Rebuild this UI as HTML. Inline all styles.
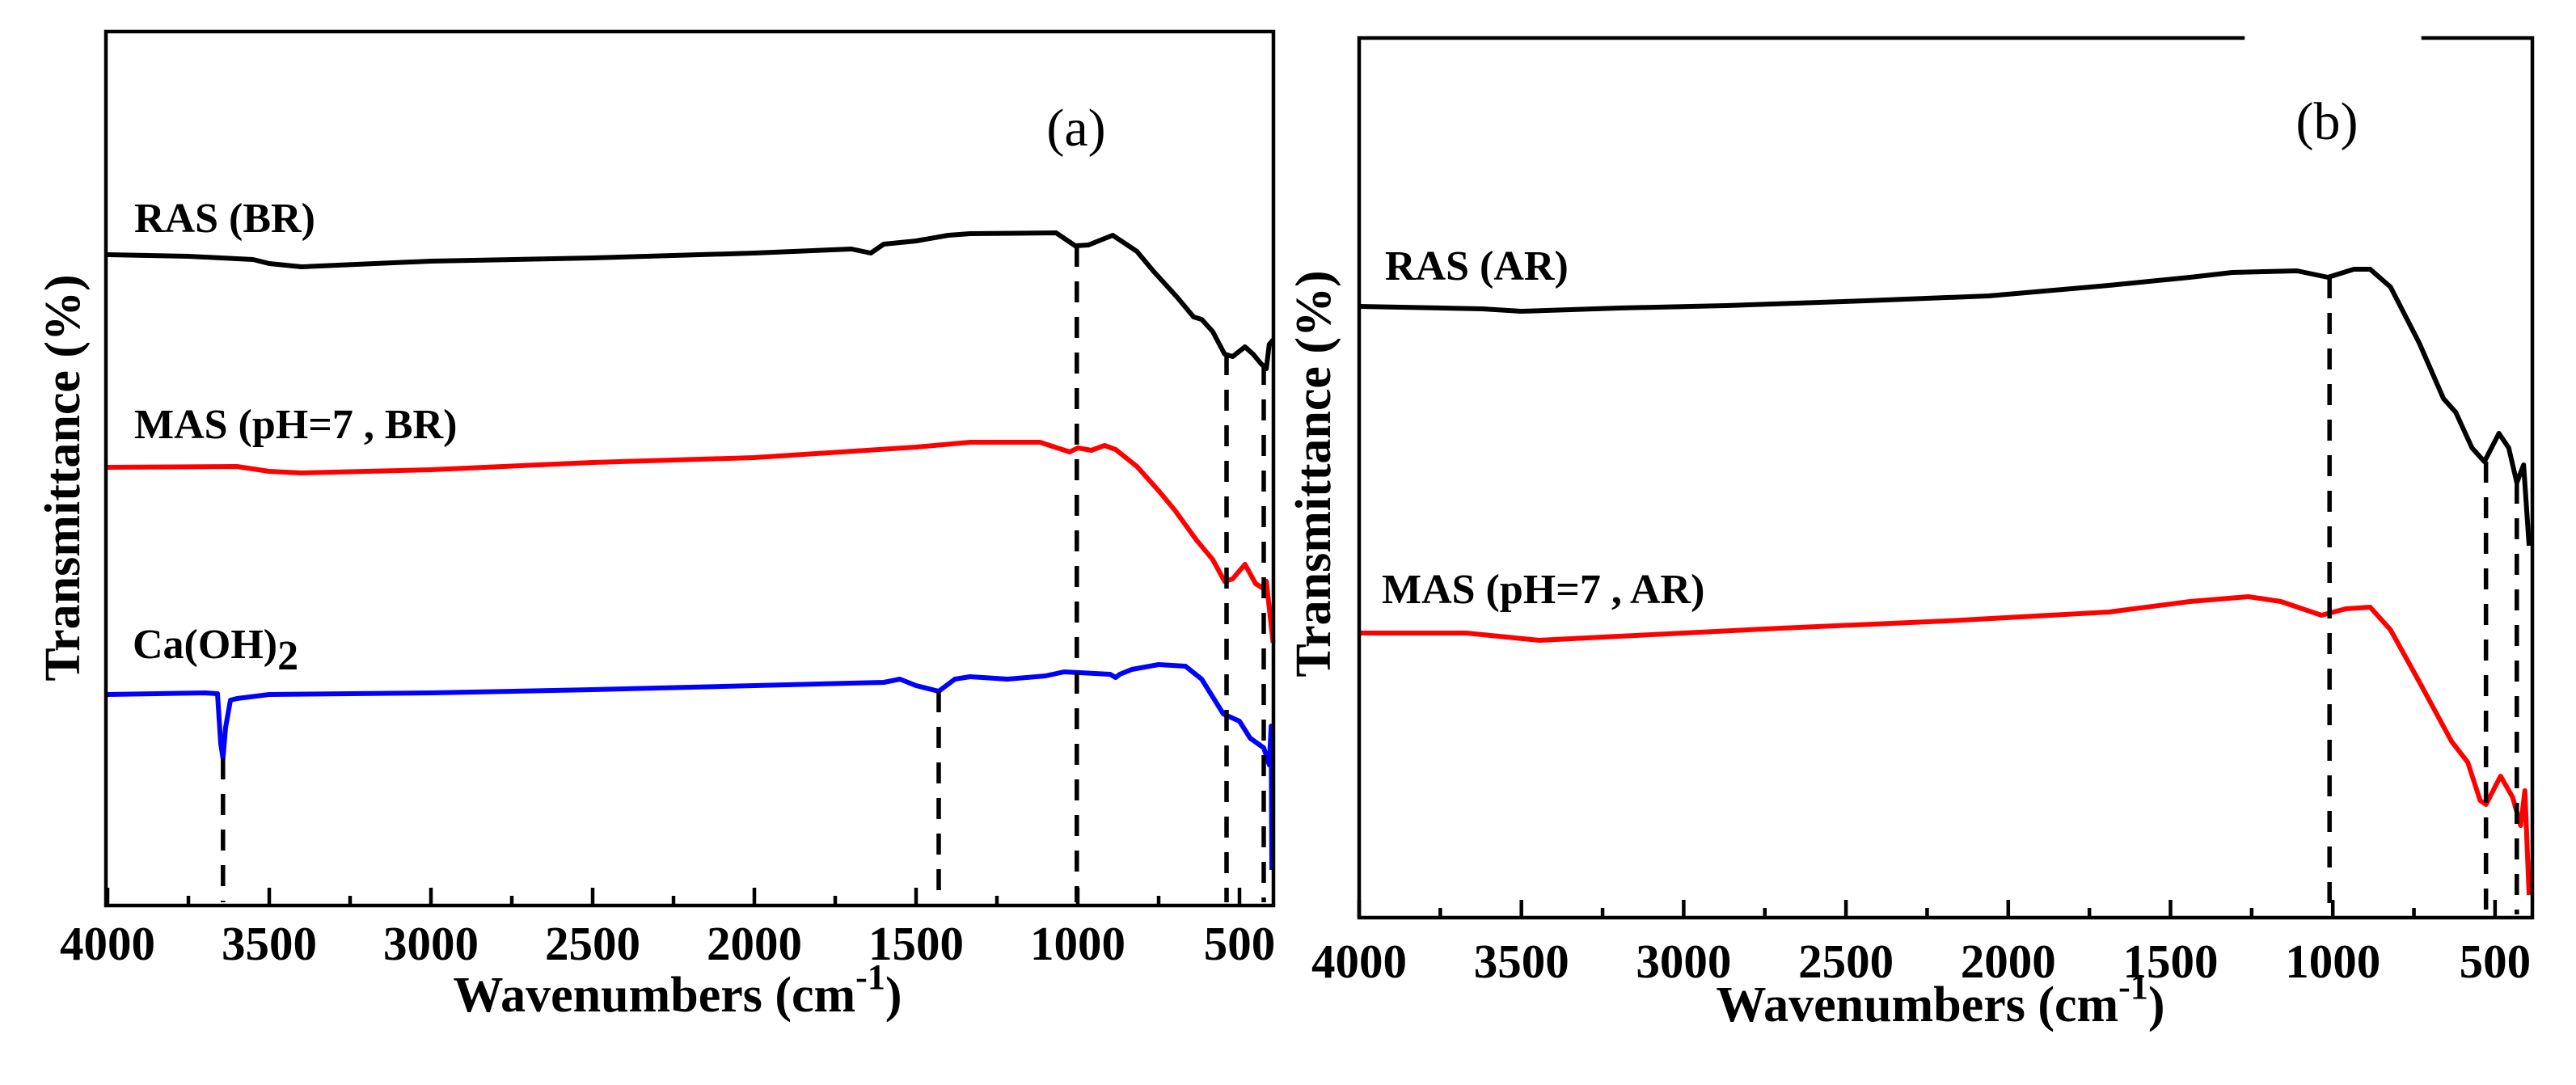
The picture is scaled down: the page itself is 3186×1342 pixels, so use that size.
<!DOCTYPE html>
<html><head><meta charset="utf-8">
<style>
html,body{margin:0;padding:0;background:#fff;}
svg{display:block;}
text{font-family:"Liberation Serif","Times New Roman",serif;}
</style></head>
<body>
<svg id="chart" width="3186" height="1342" viewBox="0 0 3186 1342" xmlns="http://www.w3.org/2000/svg">
<rect x="0" y="0" width="3186" height="1342" fill="#fff"/>
<g id="panelA"></g>
<g id="panelB"></g>
</svg>
<script>
const majorTicks = [4000,3500,3000,2500,2000,1500,1000,500];
const minorTicks = [3750,3250,2750,2250,1750,1250,750];
const tickLabels = ["4000","3500","3000","2500","2000","1500","1000","500"];

const rasBR_w = [4000,3750,3550,3500,3400,3000,2500,2000,1700,1640,1600,1500,1400,1333,1067,1008,967,892,817,767,692,642,617,583,546,521,483,458,433,417,408,395];
const rasBR_t = [315,317,321,326,330,323,319,313,308,313,302,298,291,289,288,304,303,291,311,335,368,392,395,410,438,441,429,438,450,456,426,420];
const masBR_w = [4000,3600,3500,3400,3000,2500,2000,1500,1333,1117,1025,1000,958,917,883,817,750,700,633,583,546,521,483,450,425,417,396];
const masBR_t = [578,577,583,585,581,572,566,553,547,547,559,554,557,551,556,577,607,631,668,692,719,716,698,722,728,719,795];
const caoh_w = [4000,3700,3660,3650,3643,3635,3620,3600,3500,3000,2500,2000,1600,1550,1500,1430,1380,1333,1217,1100,1042,900,883,870,833,750,667,617,550,500,467,425,408,402,400];
const caoh_t = [859,857,858,920,938,900,866,864,859,857,853,848,844,840,848,855,840,837,840,836,831,834,838,834,828,822,824,840,883,892,913,925,946,898,1076];
const dashA_w = [3643,1430,1003,540,425];
const dashA_t = [938,855,304,438,450];

const rasAR_w = [4000,3620,3500,3200,2870,2440,2060,1690,1440,1310,1110,1015,935,885,822,734,659,621,571,533,488,458,433,412,395];
const rasAR_t = [379,382,385,381,378,372,366,353,343,337,335,343,333,333,355,424,493,510,554,571,536,554,597,575,675];
const masAR_w = [4000,3670,3445,3200,2700,2190,1690,1440,1260,1160,1035,960,885,822,734,634,584,546,528,483,446,421,408,395];
const masAR_t = [783,783,792,787,777,768,757,744,738,744,761,753,751,779,843,917,943,990,995,960,986,1021,978,1107];
const dashB_w = [1010,528,433];
const dashB_t = [343,571,597];

const NS = "http://www.w3.org/2000/svg";
function mk(tag, attrs, parent){
  const e = document.createElementNS(NS, tag);
  for (const k in attrs) e.setAttribute(k, attrs[k]);
  parent.appendChild(e);
  return e;
}

function drawPanel(g, cfg){
  const xs = w => cfg.left + (cfg.wMax - w) * cfg.k;
  const ys = t => t + cfg.yOff;
  cfg.series.forEach(s => {
    let d = "";
    s.w.forEach((w,i) => { d += (i ? "L" : "M") + xs(w).toFixed(1) + "," + ys(s.t[i]).toFixed(1); });
    const p = mk("path", {d:d, fill:"none", stroke:s.color, "stroke-width":6, "stroke-linejoin":"round"}, g);
    
    
  });
  cfg.dashW.forEach((w,i) => {
    const l = mk("line", {x1:xs(w), x2:xs(w), y1:ys(cfg.dashT[i]), y2:cfg.bottom-4, stroke:"#000", "stroke-width":5.5, "stroke-dasharray":"26 18"}, g);
    
    
  });
  const f = mk("path", {d: cfg.frame, fill:"none", stroke:"#000", "stroke-width":4.5, "stroke-linecap":"square"}, g);
  
  
  majorTicks.forEach((w,i) => {
    const x = xs(w);
    const t = mk("line", {x1:x, x2:x, y1:cfg.bottom, y2:cfg.bottom-22, stroke:"#000", "stroke-width":4.5}, g);
    
    
    const lb = mk("text", {x:x, y:cfg.labelY, "font-size":59, "font-weight":"bold", "text-anchor":"middle"}, g);
    lb.textContent = tickLabels[i];
    
    
  });
  minorTicks.forEach(w => {
    const x = xs(w);
    const t = mk("line", {x1:x, x2:x, y1:cfg.bottom, y2:cfg.bottom-12, stroke:"#000", "stroke-width":4.5}, g);
    
    
  });
}

const gA = document.getElementById("panelA");
drawPanel(gA, {
  left:133, wMax:4000, k:0.4, yOff:0, bottom:1120, labelY:1187,
  frame:"M131,39 L1575,39 L1575,1120 L131,1120 Z",
  series:[
    {w:rasBR_w, t:rasBR_t, color:"#000", name:"ras-br-line"},
    {w:masBR_w, t:masBR_t, color:"#ff0000", name:"mas-br-line"},
    {w:caoh_w, t:caoh_t, color:"#0000ff", name:"caoh2-line"}
  ],
  dashW:dashA_w, dashT:dashA_t
});
const gB = document.getElementById("panelB");
drawPanel(gB, {
  left:1681, wMax:4000, k:0.4014, yOff:0, bottom:1135, labelY:1209,
  frame:"M2774,47 L1681,47 L1681,1135 L3132,1135 L3132,47 L2997,47",
  series:[
    {w:rasAR_w, t:rasAR_t, color:"#000", name:"ras-ar-line"},
    {w:masAR_w, t:masAR_t, color:"#ff0000", name:"mas-ar-line"}
  ],
  dashW:dashB_w, dashT:dashB_t
});
</script>
<svg style="position:absolute;left:0;top:0" width="3186" height="1342">
<text x="1331" y="180" font-size="66" text-anchor="middle" style="font-family:'Liberation Serif',serif">(a)</text>
<text x="2878" y="172" font-size="66" text-anchor="middle" style="font-family:'Liberation Serif',serif">(b)</text>
<g font-weight="bold" font-size="52" style="font-family:'Liberation Serif',serif">
<text x="166" y="287">RAS (BR)</text>
<text x="166" y="542">MAS (pH=7 , BR)</text>
<text x="164" y="814">Ca(OH)<tspan dy="14">2</tspan></text>
<text x="1713" y="346">RAS (AR)</text>
<text x="1709" y="746">MAS (pH=7 , AR)</text>
</g>
<g font-weight="bold" font-size="62" style="font-family:'Liberation Serif',serif">
<text x="838" y="1251" text-anchor="middle">Wavenumbers (cm<tspan dy="-28" font-size="44">-1</tspan><tspan dy="28">)</tspan></text>
<text x="2400" y="1263" text-anchor="middle">Wavenumbers (cm<tspan dy="-28" font-size="44">-1</tspan><tspan dy="28">)</tspan></text>
<text transform="translate(98,591) rotate(-90)" text-anchor="middle">Transmittance (%)</text>
<text transform="translate(1645,586) rotate(-90)" text-anchor="middle">Transmittance (%)</text>
</g>
</svg>
</body></html>
